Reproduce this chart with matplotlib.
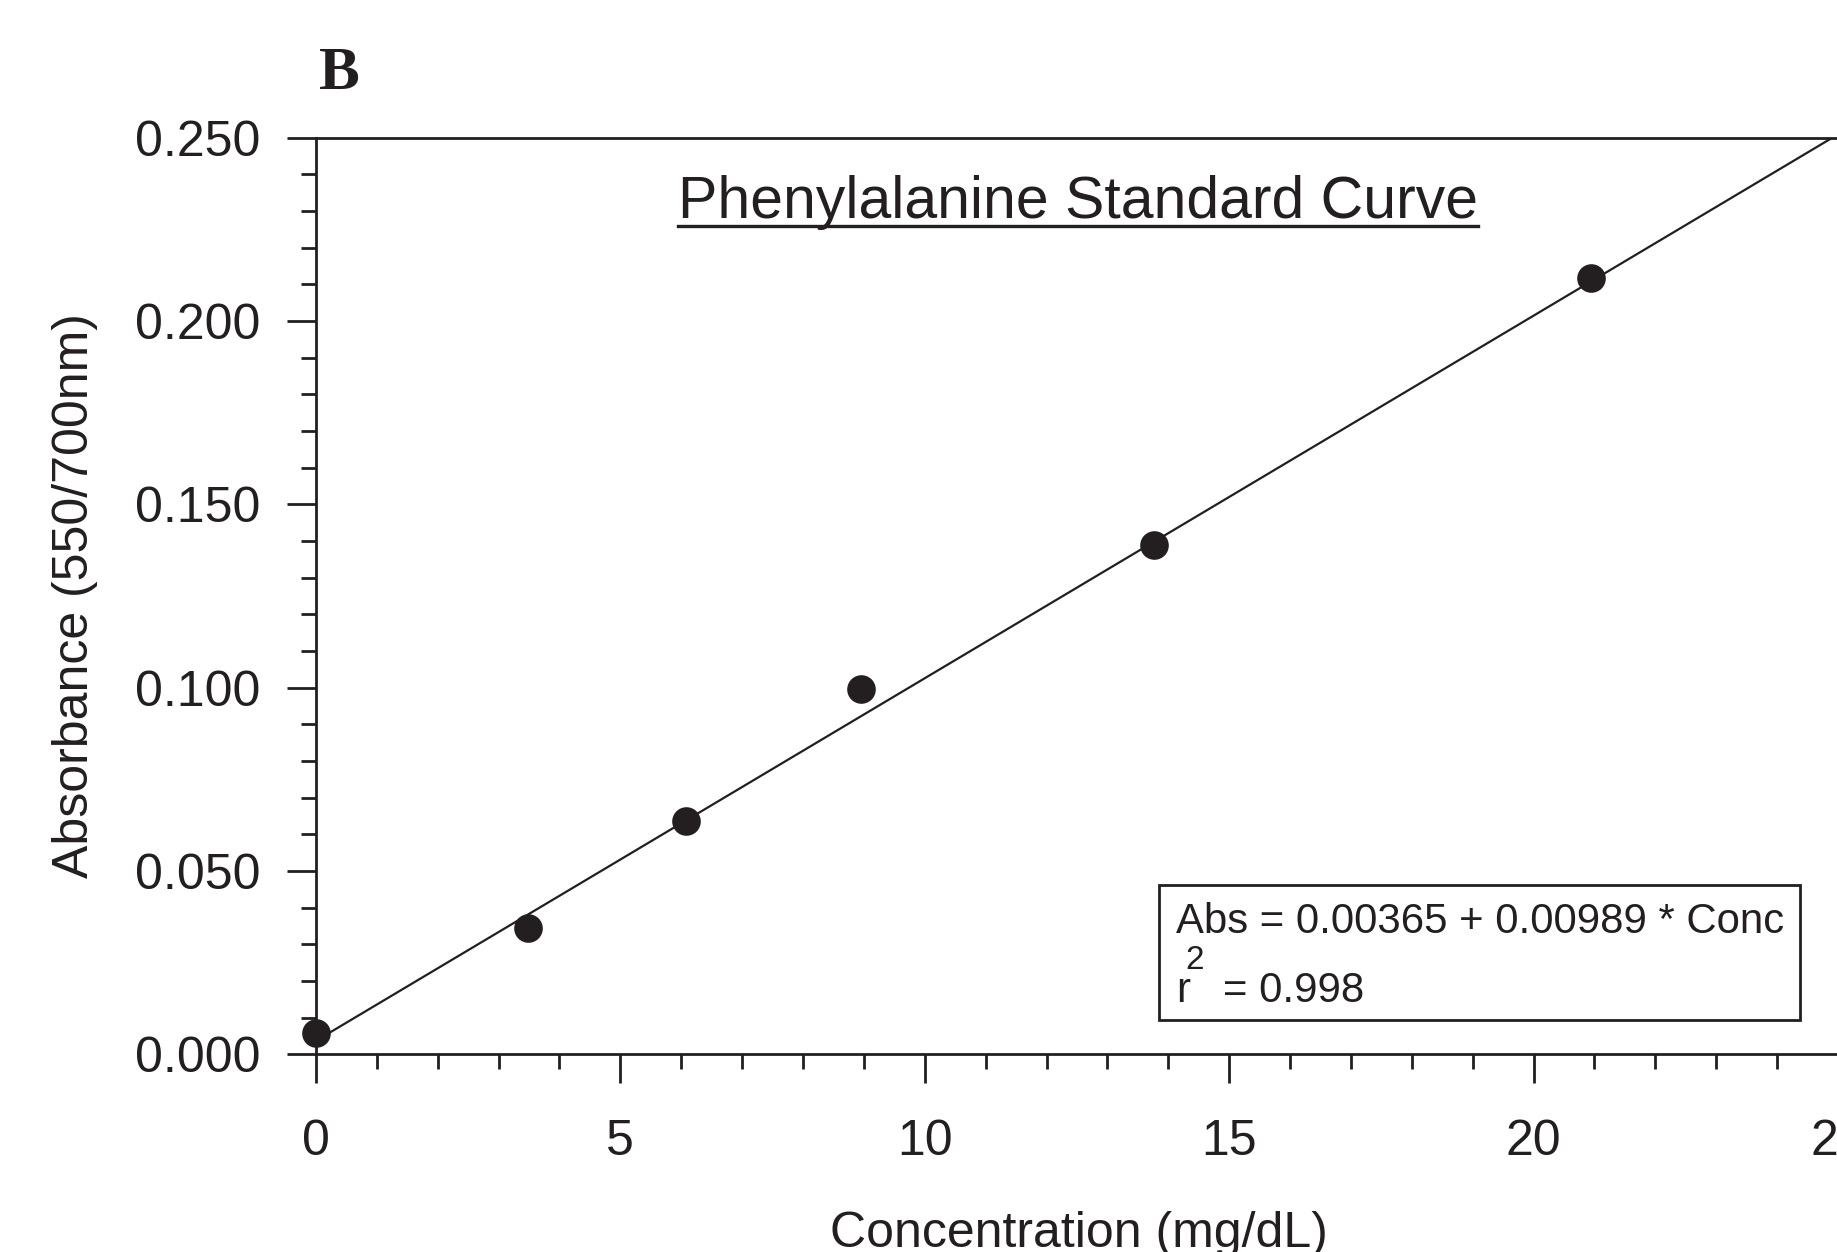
import numpy as np
import matplotlib
matplotlib.use("Agg")
import matplotlib.pyplot as plt
from matplotlib.lines import Line2D
from matplotlib.patches import Rectangle

# 数据
conc = [0.0, 3.48, 6.08, 8.96, 13.77, 20.94]
absorb = [0.0058, 0.0345, 0.0636, 0.0997, 0.1388, 0.2117]
intercept = 0.00365
slope = 0.00989
r2 = 0.998
fit_x = [0, 25]
x_ticks = [0, 5, 10, 15, 20, 25]
y_ticks = [0.000, 0.050, 0.100, 0.150, 0.200, 0.250]

plt.rcParams['font.family'] = ['Liberation Sans', 'DejaVu Sans']
ink = "#231f20"

fig = plt.figure(figsize=(9.185, 6.26), dpi=200)
ax = fig.add_axes([0.172, 0.158, 0.8285, 0.732])

fit_y = [intercept + slope * v for v in fit_x]
ax.plot(fit_x, fit_y, color=ink, lw=0.8, clip_on=True)
ax.plot(conc, absorb, 'o', color=ink, ms=9.3, clip_on=False, zorder=5)

ax.set_xlim(0, 25)
ax.set_ylim(0, 0.25)
ax.set_xticks(x_ticks)
ax.set_xticklabels([str(t) for t in x_ticks])
ax.set_yticks(y_ticks)
ax.set_yticklabels([f"{t:.3f}" for t in y_ticks])
ax.set_xticks(np.arange(0, 26, 1), minor=True)
ax.set_yticks(np.arange(0, 0.2501, 0.01), minor=True)
ax.tick_params(which='major', length=10.4, width=1.0, color=ink, labelsize=18,
               labelcolor=ink, direction='out')
ax.tick_params(which='minor', length=5.4, width=1.0, color=ink, direction='out')
ax.tick_params(axis='y', pad=9.5)
ax.tick_params(axis='x', pad=13)
ax.spines['right'].set_visible(False)
for s in ['left', 'bottom', 'top']:
    ax.spines[s].set_linewidth(1.0)
    ax.spines[s].set_color(ink)

# 标题（带下划线）
title = ax.text(0.501, 0.912, "Phenylalanine Standard Curve", transform=ax.transAxes,
                ha='center', va='baseline', fontsize=21.2, color=ink)

# 方程框
ax.add_patch(Rectangle((0.554, 0.037), 0.421, 0.148, transform=ax.transAxes,
                       fill=False, ec=ink, lw=1.0))
ax.text(0.565, 0.132, f"Abs = {intercept:.5f} + {slope:.5f} * Conc", transform=ax.transAxes,
        ha='left', va='baseline', fontsize=15.1, color=ink)
ax.text(0.565, 0.057, "r", transform=ax.transAxes, ha='left', va='baseline',
        fontsize=15.1, color=ink)
ax.text(0.5715, 0.093, "2", transform=ax.transAxes, ha='left', va='baseline',
        fontsize=12, color=ink)
ax.text(0.596, 0.057, f"= {r2:.3f}", transform=ax.transAxes, ha='left', va='baseline',
        fontsize=15.1, color=ink)

# 轴标签
fig.text(0.501 * 0.8285 + 0.172, 0.004, "Concentration (mg/dL)", ha='center',
         va='baseline', fontsize=18, color=ink)
fig.text(0.041, 0.158 + 0.732 / 2, "Absorbance (550/700nm)", rotation=90,
         ha='center', va='center', fontsize=18, color=ink)

# 面板字母
fig.text(0.185, 0.929, "B", family=['Liberation Serif', 'DejaVu Serif'],
         fontweight='bold', fontsize=22, ha='center', va='baseline', color=ink)

# 下划线
fig.canvas.draw()
bb = title.get_window_extent(renderer=fig.canvas.get_renderer())
inv = fig.transFigure.inverted()
(x0, y0), (x1, _) = inv.transform([(bb.x0, bb.y0), (bb.x1, bb.y0)])
fig.add_artist(Line2D([x0, x1], [y0 + 0.0035, y0 + 0.0035], transform=fig.transFigure,
                      color=ink, lw=1.2))

fig.savefig("out.png", dpi=200)
